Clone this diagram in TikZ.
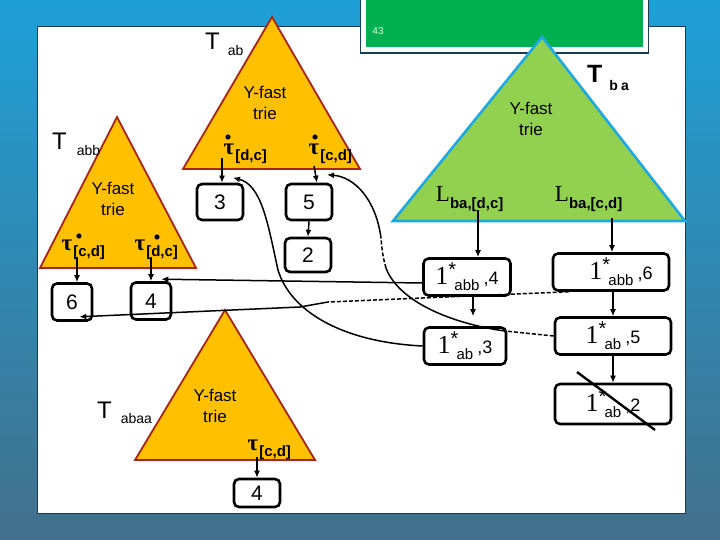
\documentclass[tikz,border=0pt]{standalone}
\usepackage{fontspec}
\setmainfont{Liberation Sans}
\newfontfamily\serifrm{Liberation Serif}
\usetikzlibrary{arrows.meta}
\definecolor{trieorange}{RGB}{255,192,0}
\definecolor{trieedge}{RGB}{168,36,20}
\definecolor{triegreen}{RGB}{146,208,80}
\definecolor{triecyan}{RGB}{30,170,225}
\definecolor{titlegreen}{RGB}{0,176,80}
\definecolor{slidetop}{RGB}{30,160,215}
\definecolor{slidebot}{RGB}{66,112,140}
\definecolor{framedark}{RGB}{25,60,80}
% label helpers
\newcommand{\taulab}[1]{{\serifrm\bfseries\fontsize{23}{23}\selectfont τ}\rlap{\kern1pt\raisebox{-6pt}{\bfseries\fontsize{15}{15}\selectfont[#1]}}}
\newcommand{\Llab}[1]{{\serifrm\fontsize{23}{23}\selectfont L}\rlap{\raisebox{-6pt}{\bfseries\fontsize{15}{15}\selectfont ba,[#1]}}}
\newcommand{\onestar}[2]{{\serifrm\fontsize{26}{26}\selectfont 1}\rlap{\raisebox{8pt}{\fontsize{20}{20}\selectfont *}}\kern6pt\raisebox{-6pt}{\fontsize{15}{15}\selectfont #1}\kern4pt{\fontsize{18}{18}\selectfont ,#2}}
\begin{document}
\begin{tikzpicture}[x=1pt,y=-1pt,
  numbox/.style={draw,line width=2.6pt,rounded corners=5pt,inner sep=0pt,minimum width=46pt,minimum height=36pt,font=\fontsize{21}{21}\selectfont},
  starbox/.style={numbox,minimum width=116pt,minimum height=37pt},
  link/.style={line width=1.5pt},
  dashlink/.style={link,dash pattern=on 4pt off 2pt},
  arr/.style={link,-{Latex[length=7pt,width=6pt]}},
  trie/.style={fill=trieorange,draw=trieedge,line width=1.8pt},
  trieba/.style={fill=triegreen,draw=triecyan,line width=2.6pt},
  trietext/.style={align=center,inner sep=0pt,font=\fontsize{17}{21}\selectfont},
  tname/.style={anchor=base west,inner sep=0pt,font=\fontsize{24}{24}\selectfont},
  taunode/.style={anchor=base,inner sep=0pt}]
\useasboundingbox (0,0) rectangle (720,540);
% slide background, frame and title bar
\shade[top color=slidetop,bottom color=slidebot] (0,0) rectangle (720,540);
\draw[fill=white,draw=framedark,line width=0.8pt] (37,26) rectangle (685,513);
\fill[framedark] (360,0) rectangle (649,54);
\fill[white] (361,0) rectangle (648,52.5);
\fill[titlegreen] (366,0) rectangle (643,47);
\node[font=\fontsize{10}{10}\selectfont,text=white!85!green] (pageno) at (378,31) {43};

% the four tries
\draw[trie] (272,17) -- (183,169) -- (360,169) -- cycle;
\draw[trie] (117,117) -- (40,268) -- (196,268) -- cycle;
\draw[trie] (225,310) -- (135,460) -- (315,460) -- cycle;
\draw[trieba] (542,37) -- (393,221) -- (685,221) -- cycle;

\node[tname] (Tab) at (205,50) {T\hspace{8pt}\raisebox{-6pt}{\fontsize{14}{14}\selectfont ab}};
\node[tname] (Tabb) at (52,150) {T\hspace{10pt}\raisebox{-6pt}{\fontsize{14}{14}\selectfont abb}};
\node[tname] (Tabaa) at (97,418) {T\hspace{9pt}\raisebox{-5pt}{\fontsize{14}{14}\selectfont abaa}};
\node[tname,font=\bfseries\fontsize{25}{25}\selectfont] (Tba) at (587,83) {T\hspace{7pt}\raisebox{-8pt}{\fontsize{14}{14}\selectfont b\kern3pt a}};

\node[trietext] (yab) at (265,103) {Y-fast\\trie};
\node[trietext] (yabb) at (113,199) {Y-fast\\trie};
\node[trietext] (yabaa) at (215,406) {Y-fast\\trie};
\node[trietext] (yba) at (531,119) {Y-fast\\trie};

\node[taunode] (tab1) at (229,155) {\taulab{d,c}};
\node[taunode] (tab2) at (314,155) {\taulab{c,d}};
\node[taunode] (tabb1) at (67,250) {\taulab{c,d}};
\node[taunode] (tabb2) at (140,250) {\taulab{d,c}};
\node[taunode] (tabaa) at (253,450) {\taulab{c,d}};
\fill ([shift={(-1,-18)}]tab1.base) circle (2.6);
\fill ([shift={(1,-18)}]tab2.base) circle (2.6);
\fill ([shift={(12,-14)}]tabb1.base) circle (2.6);
\fill ([shift={(17,-13)}]tabb2.base) circle (2.6);

\node[taunode] (Lba1) at (443,202) {\Llab{d,c}};
\node[taunode] (Lba2) at (562,202) {\Llab{c,d}};

% leaf boxes
\node[numbox] (b3) at (220,202) {3};
\node[numbox] (b5) at (309,202) {5};
\node[numbox,minimum height=34pt] (b2) at (308,255) {2};
\node[numbox,minimum width=40pt,minimum height=37pt] (b6) at (72,302) {6};
\node[numbox,minimum width=40pt,minimum height=37pt] (b4b) at (151,301) {4};
\node[numbox,minimum height=28pt] (b4c) at (257,493) {4};
\node[starbox,minimum width=87pt] (ab4) at (467,277) {\onestar{abb}{4}};
\node[starbox] (ab6) at (611,272) {\hspace*{20pt}\onestar{abb}{6}};
\node[starbox,minimum width=82pt] (ab3) at (465,346) {\onestar{ab}{3}};
\node[starbox] (ab5) at (613,336) {\onestar{ab}{5}};
\node[starbox,minimum height=40pt] (ab2) at (613,404) {\onestar{ab}{2}};
\draw[line width=2.4pt] ([shift={(-36,-32)}]ab2.center) -- ([shift={(42,26)}]ab2.center);

% pointers out of the tries
\coordinate (ab4in) at ([xshift=11pt]ab4.north);
\coordinate (ab6in) at ([xshift=1pt]ab6.north);
\draw[arr] (b3.north |- tab1.base) ++(2,3) -- ([xshift=2pt]b3.north);
\draw[arr] (tab2.base) ++(0,11) -- ([xshift=8pt]b5.north);
\draw[arr] (b5.south) -- (b2.north);
\draw[arr] (b6.north |- tabb1.base) ++(5,7) -- ([xshift=5pt]b6.north);
\draw[arr] (b4b.north |- tabb2.base) ++(0,7) -- (b4b.north);
\draw[arr] (b4c.north |- tabaa.base) ++(0,7) -- (b4c.north);
\draw[arr] (ab4in |- Lba1.base) ++(0,8) -- (ab4in);
\draw[arr] (ab6in |- Lba2.base) ++(0,16) -- (ab6in);
\draw[arr,shorten >=10pt] ([xshift=6pt]ab4.south) -- ([xshift=6pt]ab4.south |- ab3.north);
\draw[arr] ([xshift=2pt]ab6.south) -- ([xshift=2pt]ab6.south |- ab5.north);
\draw[arr] (ab5.south) -- (ab2.north);

% pointers back into the tries
\coordinate (k1) at (505,331);
\coordinate (k2) at (386,268);
\coordinate (k3) at (381,238);
\coordinate (k4) at (328,302);
\coordinate (k5) at (300,307);
\draw[arr] ([yshift=-6pt]ab4.west) -- ([shift={(-11pt,2pt)}]b4b.north east);
\draw[arr] (ab3.west) .. controls (340,342) and (290,310) .. (278,270)
  .. controls (268,225) and (262,185) .. ([shift={(13pt,5pt)}]b3.north);
\draw[dashlink] (ab5.west) -- (k1);
\draw[link] (k1) .. controls (460,325) and (400,305) .. (k2);
\draw[dashlink] (k2) .. controls (383,258) and (382,250) .. (k3);
\draw[arr] (k3) .. controls (376,200) and (355,177) .. ([shift={(18pt,8pt)}]b5.north);
\draw[dashlink] ([xshift=17pt]ab6.south west) -- (k4);
\draw[arr] (k4) -- (k5) -- ([shift={(-14pt,5pt)}]b6.south east);
\end{tikzpicture}
\end{document}
